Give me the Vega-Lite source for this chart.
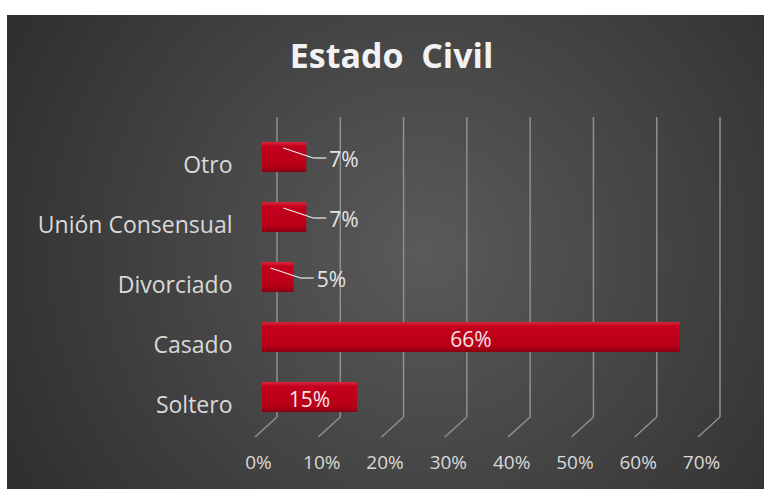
{
  "$schema": "https://vega.github.io/schema/vega-lite/v6.json",
  "width": 757,
  "height": 474,
  "autosize": {"type": "none"},
  "padding": {"left": 7, "top": 15, "right": 0, "bottom": 0},
  "background": "white",
  "config": {
    "font": "Open Sans",
    "view": {
      "stroke": null,
      "fill": {
        "gradient": "radial",
        "x1": 0.55, "y1": 0.5, "r1": 0,
        "x2": 0.55, "y2": 0.5, "r2": 0.75,
        "stops": [
          {"offset": 0, "color": "#5a5a5a"},
          {"offset": 1, "color": "#262626"}
        ]
      }
    }
  },
  "title": {
    "text": "Estado\u00a0 Civil",
    "anchor": "middle",
    "offset": -55,
    "baseline": "alphabetic",
    "dx": 6,
    "dy": 32,
    "fontSize": 34,
    "fontWeight": "bold",
    "color": "#f2f2f2",
    "font": "Open Sans"
  },
  "datasets": {
    "estado": [
      {"categoria": "Otro", "valor": 0.07},
      {"categoria": "Unión Consensual", "valor": 0.07},
      {"categoria": "Divorciado", "valor": 0.05},
      {"categoria": "Casado", "valor": 0.66},
      {"categoria": "Soltero", "valor": 0.15}
    ],
    "ticks": [
      {"t": 0}, {"t": 0.1}, {"t": 0.2}, {"t": 0.3},
      {"t": 0.4}, {"t": 0.5}, {"t": 0.6}, {"t": 0.7}
    ]
  },
  "layer": [
    {
      "data": {"name": "ticks"},
      "mark": {"type": "rule", "xOffset": 15, "x2Offset": 15, "color": "#8f8f8f", "strokeWidth": 1.5},
      "encoding": {
        "x": {
          "field": "t", "type": "quantitative",
          "scale": {"domain": [0, 0.7], "range": [255, 698], "zero": false, "nice": false},
          "axis": {
            "values": [0, 0.1, 0.2, 0.3, 0.4, 0.5, 0.6, 0.7],
            "format": ".0%",
            "grid": false, "domain": false, "ticks": false, "tickSize": 0,
            "labelPadding": 0, "offset": -27, "labelBaseline": "middle",
            "labelFlush": false, "labelOverlap": false, "labelBound": false,
            "labelOffset": -4, "labelColor": "#d9d9d9", "labelFontSize": 19,
            "title": null
          }
        },
        "x2": {"field": "t"},
        "y": {"datum": 0, "type": "quantitative", "scale": {"domain": [0, 1], "range": [402, 102], "zero": false, "nice": false}, "axis": null},
        "y2": {"datum": 1}
      }
    },
    {
      "data": {"name": "ticks"},
      "mark": {"type": "rule", "xOffset": 15, "x2Offset": -7, "y2Offset": 20, "color": "#8f8f8f", "strokeWidth": 1.5},
      "encoding": {
        "x": {"field": "t", "type": "quantitative", "scale": {"domain": [0, 0.7], "range": [255, 698], "zero": false, "nice": false}, "axis": null},
        "x2": {"field": "t"},
        "y": {"datum": 0, "type": "quantitative", "scale": {"domain": [0, 1], "range": [402, 102], "zero": false, "nice": false}, "axis": null},
        "y2": {"datum": 0}
      }
    },
    {
      "data": {"name": "estado"},
      "mark": {
        "type": "bar",
        "color": {
          "gradient": "linear", "x1": 0, "y1": 0, "x2": 0, "y2": 1,
          "stops": [
            {"offset": 0, "color": "#d8283c"},
            {"offset": 0.15, "color": "#c4001c"},
            {"offset": 0.8, "color": "#b80018"},
            {"offset": 1, "color": "#8a0012"}
          ]
        }
      },
      "encoding": {
        "x": {"field": "valor", "type": "quantitative", "scale": {"domain": [0, 0.7], "range": [255, 698], "nice": false}, "axis": null},
        "y": {
          "field": "categoria", "type": "nominal",
          "sort": ["Otro", "Unión Consensual", "Divorciado", "Casado", "Soltero"],
          "scale": {"domain": ["Otro", "Unión Consensual", "Divorciado", "Casado", "Soltero"], "range": [112, 412], "paddingInner": 0.5, "paddingOuter": 0.25},
          "axis": {
            "orient": "left", "offset": -225, "domain": false, "ticks": false, "tickSize": 0,
            "labelPadding": 0, "labelOffset": 9, "labelFontSize": 23, "labelColor": "#d9d9d9",
            "labelLimit": 0, "title": null, "grid": false
          }
        }
      }
    },
    {
      "data": {"name": "estado"},
      "transform": [{"filter": "datum.valor < 0.1"}],
      "mark": {"type": "rule", "xOffset": -23, "x2Offset": 7, "yOffset": -9, "y2Offset": 1, "color": "#eeeeee", "strokeWidth": 1.2},
      "encoding": {
        "x": {"field": "valor", "type": "quantitative", "scale": {"domain": [0, 0.7], "range": [255, 698], "nice": false}, "axis": null},
        "x2": {"field": "valor"},
        "y": {"field": "categoria", "type": "nominal", "scale": {"domain": ["Otro", "Unión Consensual", "Divorciado", "Casado", "Soltero"], "range": [112, 412], "paddingInner": 0.5, "paddingOuter": 0.25}, "axis": null},
        "y2": {"field": "categoria"}
      }
    },
    {
      "data": {"name": "estado"},
      "transform": [{"filter": "datum.valor < 0.1"}],
      "mark": {"type": "rule", "xOffset": 7, "x2Offset": 20, "yOffset": 1, "y2Offset": 1, "color": "#eeeeee", "strokeWidth": 1.2},
      "encoding": {
        "x": {"field": "valor", "type": "quantitative", "scale": {"domain": [0, 0.7], "range": [255, 698], "nice": false}, "axis": null},
        "x2": {"field": "valor"},
        "y": {"field": "categoria", "type": "nominal", "scale": {"domain": ["Otro", "Unión Consensual", "Divorciado", "Casado", "Soltero"], "range": [112, 412], "paddingInner": 0.5, "paddingOuter": 0.25}, "axis": null}
      }
    },
    {
      "data": {"name": "estado"},
      "transform": [{"filter": "datum.valor < 0.1"}],
      "mark": {"type": "text", "align": "left", "baseline": "middle", "dx": 23, "dy": 4, "fontSize": 21, "color": "#e6e6e6"},
      "encoding": {
        "x": {"field": "valor", "type": "quantitative", "scale": {"domain": [0, 0.7], "range": [255, 698], "nice": false}, "axis": null},
        "y": {"field": "categoria", "type": "nominal", "scale": {"domain": ["Otro", "Unión Consensual", "Divorciado", "Casado", "Soltero"], "range": [112, 412], "paddingInner": 0.5, "paddingOuter": 0.25}, "axis": null},
        "text": {"field": "valor", "type": "quantitative", "format": ".0%"}
      }
    },
    {
      "data": {"name": "estado"},
      "transform": [{"filter": "datum.valor >= 0.1"}],
      "mark": {"type": "text", "align": "center", "baseline": "middle", "dy": 4, "fontSize": 21, "color": "#f4e4e6"},
      "encoding": {
        "x": {"field": "valor", "type": "quantitative", "scale": {"domain": [0, 1.4], "range": [255, 698], "nice": false}, "axis": null},
        "y": {"field": "categoria", "type": "nominal", "scale": {"domain": ["Otro", "Unión Consensual", "Divorciado", "Casado", "Soltero"], "range": [112, 412], "paddingInner": 0.5, "paddingOuter": 0.25}, "axis": null},
        "text": {"field": "valor", "type": "quantitative", "format": ".0%"}
      }
    }
  ],
  "resolve": {"scale": {"x": "independent", "y": "independent"}}
}
